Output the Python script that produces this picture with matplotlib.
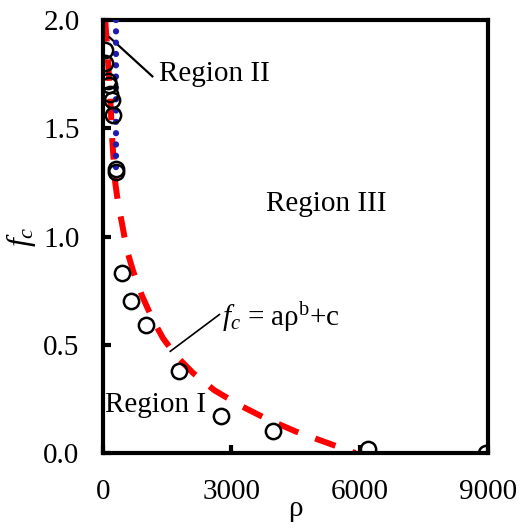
import matplotlib
matplotlib.use("Agg")
import matplotlib.pyplot as plt

plt.rcParams["font.family"] = ["Liberation Serif", "DejaVu Serif"]
plt.rcParams["mathtext.fontset"] = "custom"
plt.rcParams["mathtext.it"] = "Liberation Serif:italic"
plt.rcParams["mathtext.rm"] = "Liberation Serif"

# measured points
rho_pts = [40, 50, 100, 130, 160, 200, 230, 290, 310,
           444, 654, 1005, 1776, 2757, 3970, 6190, 8950]
fc_pts = [1.86, 1.80, 1.72, 1.70, 1.66, 1.63, 1.56, 1.31, 1.30,
          0.83, 0.70, 0.59, 0.38, 0.17, 0.10, 0.02, 0.0]

# fitted curve fc = a*rho^b + c
rho_fit = [47, 100, 160, 210, 280, 350, 440, 550, 700, 900, 1150, 1400,
           1700, 2100, 2600, 3200, 3800, 4500, 5200, 5900]
fc_fit = [2.0, 1.85, 1.66, 1.45, 1.25, 1.15, 1.06, 0.94, 0.84, 0.73, 0.62,
          0.53, 0.45, 0.37, 0.29, 0.22, 0.16, 0.10, 0.05, 0.0]

# boundary of region II
rho_bnd = [300, 300]
fc_bnd = [2.0, 1.29]

fig = plt.figure(figsize=(5.24, 5.28), dpi=100)
ax = fig.add_axes([0.197, 0.142, 0.734, 0.820])

ax.plot(rho_fit, fc_fit, color="red", linestyle=(0, (3.6, 3.0)), linewidth=4.3,
        zorder=2)
ax.plot(rho_bnd, fc_bnd, color="#1c1cb0", linestyle=(0, (0.01, 1.8)),
        linewidth=4.5, dash_capstyle="round", zorder=3)
ax.plot(rho_pts, fc_pts, linestyle="none", marker="o", markersize=11,
        markerfacecolor="none", markeredgecolor="black", markeredgewidth=1.8,
        zorder=4)

ax.set_xlim(0, 9000)
ax.set_ylim(0, 2.0)
ax.set_xticks([0, 3000, 6000, 9000])
ax.set_yticks([0.0, 0.5, 1.0, 1.5, 2.0])
ax.set_yticklabels(["0.0", "0.5", "1.0", "1.5", "2.0"])
ax.tick_params(direction="in", length=6, width=3, labelsize=21)
ax.tick_params(axis="x", pad=19)
ax.tick_params(axis="y", pad=17)
for sp in ax.spines.values():
    sp.set_linewidth(3)

ax.set_xlabel("ρ", fontsize=21, labelpad=-7)
ax.set_ylabel("$f_c$", fontsize=23, labelpad=4)

ax.text(1300, 1.75, "Region II", fontsize=21, va="center", ha="left")
ax.plot([150, 1150], [1.92, 1.74], color="black", linewidth=1.6)
ax.text(5230, 1.15, "Region III", fontsize=21, va="center", ha="center")
ax.text(50, 0.22, "Region I", fontsize=21, va="center", ha="left")
ax.text(2780, 0.63, "$f_c$ = aρ$^\\mathrm{b}$+c", fontsize=21, va="center", ha="left")
ax.plot([2720, 1570], [0.64, 0.47], color="black", linewidth=1.2)

plt.savefig("out.png", dpi=100)
